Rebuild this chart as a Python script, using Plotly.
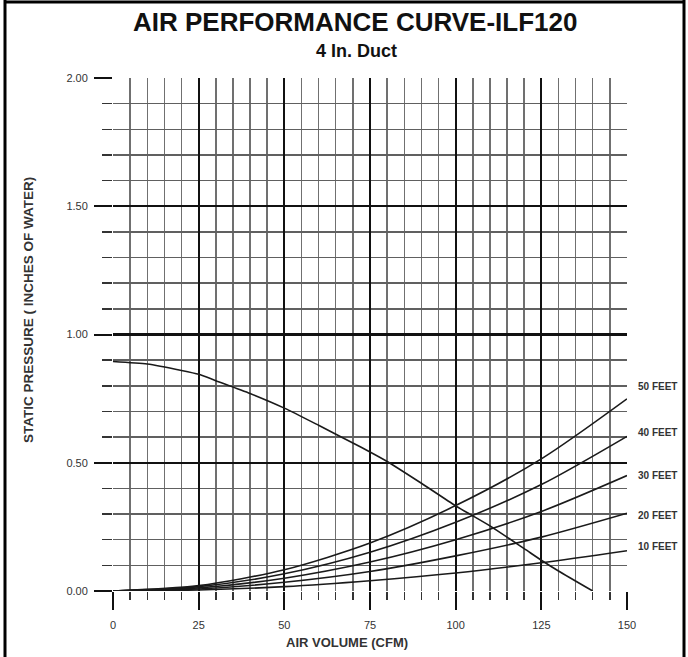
import plotly.graph_objects as go

# ---- data ----
fan_cfm = [0, 10, 20, 25, 30, 40, 50, 60, 70, 75, 80, 90, 100, 110, 120, 125, 130, 140]
fan_sp = [0.895, 0.885, 0.86, 0.845, 0.82, 0.77, 0.713, 0.646, 0.577, 0.542, 0.505, 0.42, 0.332, 0.254, 0.165, 0.12, 0.078, 0.0]

sys_cfm = [0, 25, 50, 75, 100, 125, 150]
sys_10ft = [0.0, 0.004, 0.017, 0.04, 0.07, 0.11, 0.157]
sys_20ft = [0.0, 0.008, 0.034, 0.076, 0.137, 0.21, 0.303]
sys_30ft = [0.0, 0.012, 0.05, 0.113, 0.2, 0.31, 0.45]
sys_40ft = [0.0, 0.017, 0.067, 0.151, 0.268, 0.415, 0.603]
sys_50ft = [0.0, 0.021, 0.083, 0.187, 0.333, 0.515, 0.749]

sys_labels = ["10 FEET", "20 FEET", "30 FEET", "40 FEET", "50 FEET"]
sys_label_y = [0.172, 0.293, 0.449, 0.617, 0.797]

x_ticks = [0, 25, 50, 75, 100, 125, 150]
x_minor = [v for v in range(0, 151, 5) if v % 25]
y_ticks = [0.0, 0.5, 1.0, 1.5, 2.0]
y_minor = [round(v * 0.1, 1) for v in range(0, 21) if v % 5]

title_text = "AIR PERFORMANCE CURVE-ILF120"
subtitle_text = "4 In. Duct"
x_title = "AIR VOLUME (CFM)"
y_title = "STATIC PRESSURE ( INCHES OF WATER)"

# ---- layout geometry ----
W, H = 688, 657
L, R, T, B = 113, 627, 78, 591


def px(x):
    return (x - L) / (R - L)


def py(y):
    return (B - y) / (B - T)


FONT = "Liberation Sans, Arial, sans-serif"
LINE = "#1a1a1a"

fig = go.Figure()
fig.add_trace(go.Scatter(x=fan_cfm, y=fan_sp, mode="lines",
                         line=dict(color=LINE, width=1.6, shape="spline", smoothing=0.6),
                         showlegend=False, hoverinfo="skip"))
for ys in [sys_10ft, sys_20ft, sys_30ft, sys_40ft, sys_50ft]:
    fig.add_trace(go.Scatter(x=sys_cfm, y=ys, mode="lines",
                             line=dict(color=LINE, width=1.6, shape="spline", smoothing=0.8),
                             showlegend=False, hoverinfo="skip"))

annotations = []
for lab, yv in zip(sys_labels, sys_label_y):
    annotations.append(dict(x=150, y=yv, xref="x", yref="y", text="<b>" + lab + "</b>",
                            showarrow=False, xanchor="left", yanchor="middle", xshift=9,
                            font=dict(family=FONT, size=10, color="#333")))
annotations += [
    dict(x=px(355), y=py(22), xref="paper", yref="paper", text="<b>" + title_text + "</b>",
         showarrow=False, xanchor="center", yanchor="middle",
         font=dict(family=FONT, size=26, color="#111")),
    dict(x=px(356), y=py(51), xref="paper", yref="paper", text="<b>" + subtitle_text + "</b>",
         showarrow=False, xanchor="center", yanchor="middle",
         font=dict(family=FONT, size=18, color="#111")),
    dict(x=px(347), y=py(642), xref="paper", yref="paper", text="<b>" + x_title + "</b>",
         showarrow=False, xanchor="center", yanchor="middle",
         font=dict(family=FONT, size=13, color="#333")),
    dict(x=px(28), y=py(310), xref="paper", yref="paper", text="<b>" + y_title + "</b>",
         showarrow=False, xanchor="center", yanchor="middle", textangle=-90,
         font=dict(family=FONT, size=13.5, color="#333")),
]

shapes = [
    dict(type="line", xref="paper", yref="paper", x0=px(5), x1=px(5), y0=py(0), y1=py(H),
         line=dict(color="black", width=3)),
    dict(type="line", xref="paper", yref="paper", x0=px(5), x1=px(684), y0=py(2), y1=py(2),
         line=dict(color="black", width=3)),
    dict(type="line", xref="paper", yref="paper", x0=px(684), x1=px(684), y0=py(0), y1=py(H),
         line=dict(color="black", width=3)),
]

fig.update_layout(
    width=W, height=H,
    margin=dict(l=L, r=W - R, t=T, b=H - B, pad=0),
    paper_bgcolor="white", plot_bgcolor="white",
    font=dict(family=FONT, size=11, color="#333"),
    annotations=annotations, shapes=shapes,
    xaxis=dict(range=[0, 150], tickvals=x_ticks, ticktext=[str(v) for v in x_ticks],
               showgrid=True, gridcolor="#111", gridwidth=2.2, zeroline=False,
               ticks="outside", ticklen=18, tickwidth=2, tickcolor="#111",
               showline=False, ticklabelstandoff=6,
               tickfont=dict(family=FONT, size=11, color="#333"),
               minor=dict(tickvals=x_minor, showgrid=True, gridcolor="#707070", gridwidth=1.5,
                          ticks="outside", ticklen=8, tickwidth=1.5, tickcolor="#333")),
    yaxis=dict(range=[0, 2], tickvals=y_ticks, ticktext=["%.2f" % v for v in y_ticks],
               showgrid=True, gridcolor="#111", gridwidth=2.2, zeroline=False,
               ticks="outside", ticklen=18, tickwidth=2, tickcolor="#111",
               showline=False, ticklabelstandoff=4,
               tickfont=dict(family=FONT, size=11, color="#333"),
               minor=dict(tickvals=y_minor, showgrid=True, gridcolor="#606060", gridwidth=1.5,
                          ticks="outside", ticklen=10, tickwidth=1.5, tickcolor="#333")),
)

fig.write_html("out.html", config={"displayModeBar": False, "staticPlot": True},
               post_script="document.body.style.margin='0';document.body.style.padding='0';")
